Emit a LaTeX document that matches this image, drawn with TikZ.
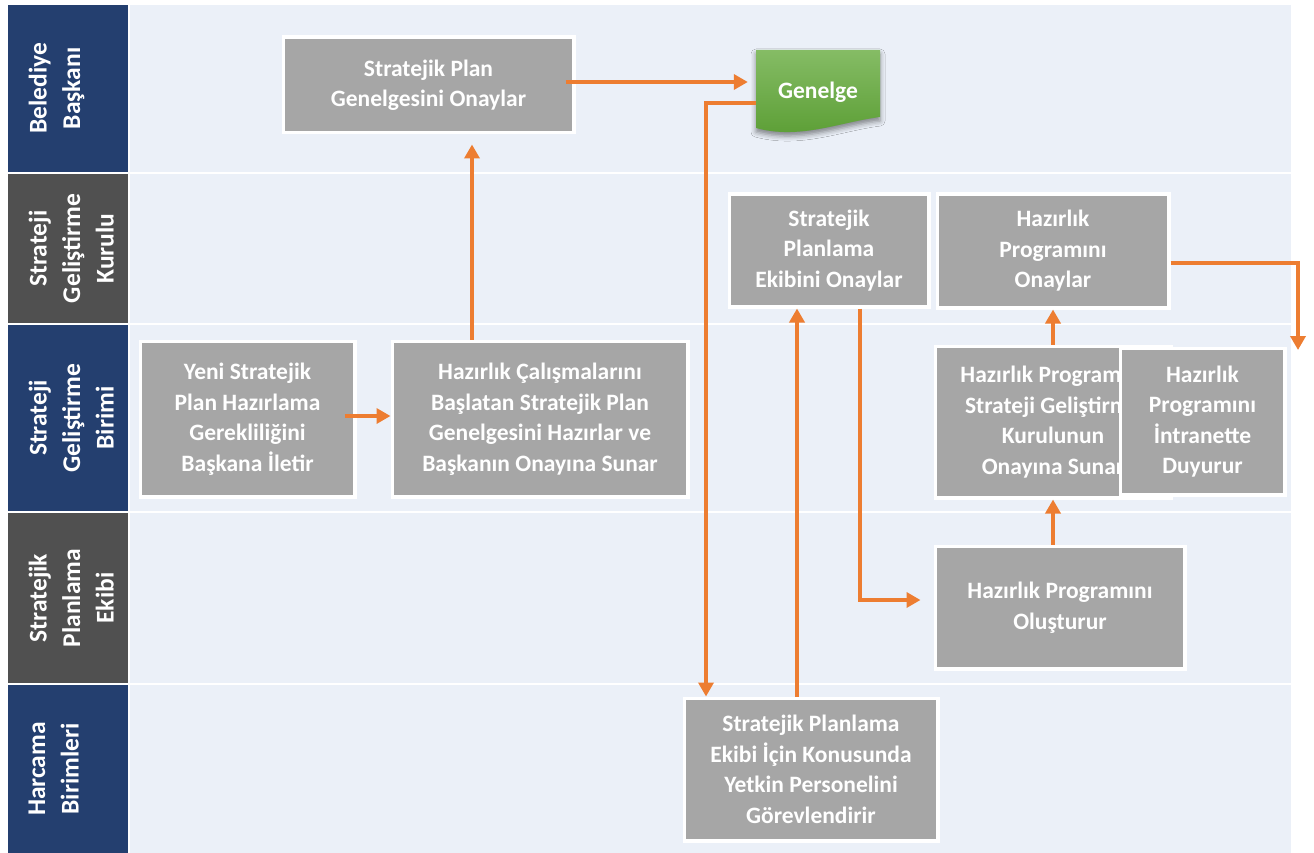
\documentclass[tikz,border=0pt]{standalone}
\usepackage{fontspec}
\setmainfont{Carlito}
\usetikzlibrary{arrows.meta,shadows.blur}
\definecolor{hdrblue}{HTML}{243F6F}
\definecolor{hdrgray}{HTML}{505050}
\definecolor{lanebg}{HTML}{EBF0F8}
\definecolor{boxgray}{HTML}{A6A6A6}
\definecolor{flowor}{HTML}{ED7D31}
\definecolor{gtop}{HTML}{85BC65}
\definecolor{gbot}{HTML}{5A9D33}
\begin{document}
\begin{tikzpicture}[x=1pt,y=-1pt,
  lanetext/.style={rotate=90, anchor=north, inner sep=0pt, text=white, align=center,
    font=\bfseries\fontsize{25.5}{33.5}\selectfont},
  stepbox/.style={fill=boxgray, draw=white, line width=3.5pt, text=white, align=center,
    inner sep=0pt, font=\bfseries\fontsize{23.5}{30.5}\selectfont},
  flow/.style={draw=flowor, line width=3.5pt, -{Triangle[length=14pt,width=15pt]}},
]
\useasboundingbox (0,0) rectangle (1314,853);
\fill[white] (0,0) rectangle (1314,853);

% lane headers
\fill[hdrblue] (8,5) rectangle (128,172);
\fill[hdrgray] (8,174) rectangle (128,323);
\fill[hdrblue] (8,325) rectangle (128,511);
\fill[hdrgray] (8,513) rectangle (128,683);
\fill[hdrblue] (8,685) rectangle (128,853);
% lane bodies
\fill[lanebg] (130,5) rectangle (1291,172);
\fill[lanebg] (130,174) rectangle (1291,323);
\fill[lanebg] (130,325) rectangle (1291,511);
\fill[lanebg] (130,513) rectangle (1291,683);
\fill[lanebg] (130,685) rectangle (1291,853);

\node[lanetext] (l1) at (28.5,88.5) {Belediye\\Başkanı};
\node[lanetext] (l2) at (28.5,248.5) {Strateji\\Geliştirme\\Kurulu};
\node[lanetext] (l3) at (28.5,418) {Strateji\\Geliştirme\\Birimi};
\node[lanetext] (l4) at (28.5,598) {Stratejik\\Planlama\\Ekibi};
\node[lanetext] (l5) at (28.5,769) {Harcama\\Birimleri};

% document shape
\path[blur shadow={shadow xshift=0pt, shadow yshift=-4pt, shadow blur radius=5pt, shadow opacity=45},
  top color=gtop, bottom color=gbot]
  (756,50) -- (880,50) -- (880,117) .. controls (840,122) and (800,140) .. (756,128) -- cycle;
\node[minimum width=124pt, minimum height=84pt, inner sep=0pt, text=white,
  font=\bfseries\fontsize{23.5}{30.5}\selectfont] (genelge) at (818,92) {Genelge};

% process steps
\node[stepbox, minimum width=290.5pt, minimum height=95.5pt] (b1) at (428.5,85) {Stratejik Plan\\Genelgesini Onaylar};
\node[stepbox, minimum width=199.5pt, minimum height=112.5pt] (spe) at (829,250.5) {Stratejik\\Planlama\\Ekibini Onaylar};
\node[stepbox, minimum width=231.5pt, minimum height=113.5pt] (hpo) at (1053,251) {Hazırlık\\Programını\\Onaylar};
\node[stepbox, minimum width=214.5pt, minimum height=155.5pt] (yeni) at (247.5,419) {Yeni Stratejik\\Plan Hazırlama\\Gerekliliğini\\Başkana İletir};
\node[stepbox, minimum width=295.5pt, minimum height=155.5pt] (hcs) at (540,419) {Hazırlık Çalışmalarını\\Başlatan Stratejik Plan\\Genelgesini Hazırlar ve\\Başkanın Onayına Sunar};
\node[stepbox, minimum width=235.5pt, minimum height=151.5pt] (sunar) at (1053,422) {Hazırlık Programını\\Strateji Geliştirme\\Kurulunun\\Onayına Sunar};
\node[stepbox, minimum width=164.5pt, minimum height=146.5pt] (duyurur) at (1202.5,421.5) {Hazırlık\\Programını\\İntranette\\Duyurur};
\node[stepbox, minimum width=249.5pt, minimum height=122.5pt] (olus) at (1060,607.5) {Hazırlık Programını\\Oluşturur};
\node[stepbox, minimum width=253.5pt, minimum height=142.5pt] (gorev) at (811,769.5) {Stratejik Planlama\\Ekibi İçin Konusunda\\Yetkin Personelini\\Görevlendirir};

% connectors
\draw[flow] ([xshift=-12pt,yshift=3pt]yeni.east) -- ([yshift=3pt]hcs.west);
\coordinate (a2) at ([xshift=-68pt]hcs.north);
\draw[flow, shorten >=10pt] (a2) -- (a2 |- b1.south);
\draw[flow, shorten >=8pt] ([xshift=-10pt,yshift=3pt]b1.east) -- ([yshift=10pt]genelge.west);
\draw[flow] ([yshift=-11pt]genelge.west) -| ([xshift=-105pt]gorev.north);
\coordinate (a5) at ([xshift=-14pt]gorev.north);
\draw[flow] (a5) -- (a5 |- spe.south);
\coordinate (a6) at ([xshift=31pt]spe.south);
\draw[flow, shorten >=13pt] (a6) |- ([yshift=7.5pt]olus.west);
\coordinate (a7) at (olus.north -| sunar.south);
\draw[flow] (a7) -- (sunar.south);
\draw[flow] (sunar.north) -- (hpo.south);
\coordinate (c9) at (1298,350);
\draw[flow] ([yshift=-12pt]hpo.east) -| (c9);
\end{tikzpicture}
\end{document}
